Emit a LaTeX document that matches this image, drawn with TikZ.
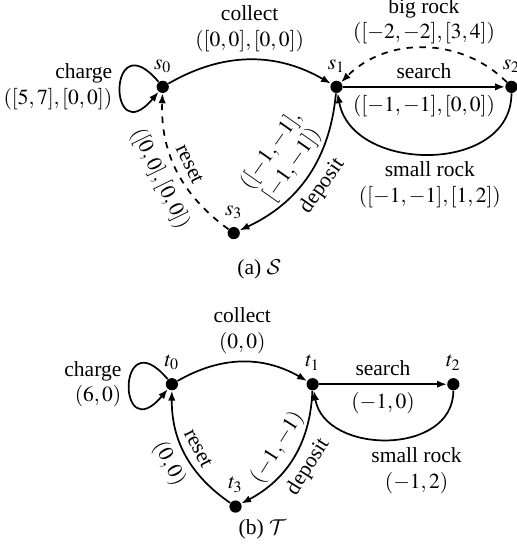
\documentclass[tikz,border=0pt]{standalone}
\usepackage{mathptmx}
\DeclareMathAlphabet{\mathcal}{OMS}{cmsy}{m}{n}
\usepackage{fontspec}
\setmainfont{Liberation Serif}
\usetikzlibrary{arrows.meta,positioning}

\begin{document}
\begin{tikzpicture}[
    state/.style={circle, fill, inner sep=0pt, minimum size=2mm},
    arc/.style={thick, -{Latex[length=1.6mm,width=1.2mm]}},
  ]
    \useasboundingbox (-2.66,-7.57) rectangle (5.78,1.42);
    % (a) the system S
    \node[state, label=above:$s_0$] (s0) at (0,0) {};
    \node[state, label=above:$s_1$] (s1) at (2.84,0) {};
    \node[state, label=above:$s_2$] (s2) at (5.70,0) {};
    \node[state, label=above:$s_3$] (s3) at (1.16,-2.39) {};
    \draw[arc] (s0) to[out=130,in=230,distance=13mm] node[left, align=right]{charge\\$([5,7],[0,0])$} (s0);
    \draw[arc] (s0) to[bend left=30] node[above, align=center]{collect\\$([0,0],[0,0])$} (s1);
    \draw[arc] (s1) -- node[above]{search} node[below]{$([-1,-1],[0,0])$} (s2);
    \draw[arc, dashed] (s2) to[bend right=45] node[above=-2pt, align=center]{big rock\\$([-2,-2],[3,4])$} (s1);
    \draw[arc] (s2) to[out=-90,in=-80,looseness=1.2] node[below, align=center]{small rock\\$([-1,-1],[1,2])$} (s1);
    \draw[arc] (s1) to[bend left=30] node[sloped, above, align=center]{$([-1,-1],$\\$[-1,-1])$} node[sloped, below]{deposit} (s3);
    \draw[arc, dashed] (s3) to[bend left=28] node[sloped, above]{reset} node[sloped, below]{$([0,0],[0,0])$} (s0);
    \node (capa) at (1.58,-2.99) {(a) $\mathcal{S}$};
    % (b) the system T
    \node[state, label=above:$t_0$] (t0) at (0.15,-4.86) {};
    \node[state, label=above:$t_1$] (t1) at (2.45,-4.86) {};
    \node[state, label=above:$t_2$] (t2) at (4.75,-4.86) {};
    \node[state, label=above:$t_3$] (t3) at (1.19,-6.86) {};
    \draw[arc] (t0) to[out=130,in=230,distance=13mm] node[left, align=right]{charge\\$(6,0)$} (t0);
    \draw[arc] (t0) to[bend left=30] node[above, align=center]{collect\\$(0,0)$} (t1);
    \draw[arc] (t1) -- node[above]{search} node[below]{$(-1,0)$} (t2);
    \draw[arc] (t2) to[out=-90,in=-80,looseness=1.2] node[below, xshift=4.7mm, align=center]{small rock\\$(-1,2)$} (t1);
    \draw[arc] (t1) to[bend left=30] node[sloped, above]{$(-1,-1)$} node[sloped, below]{deposit} (t3);
    \draw[arc] (t3) to[bend left=28] node[sloped, above]{reset} node[sloped, below]{$(0,0)$} (t0);
    \node (capb) at (1.63,-7.24) {(b) $\mathcal{T}$};
  \end{tikzpicture}
\end{document}
